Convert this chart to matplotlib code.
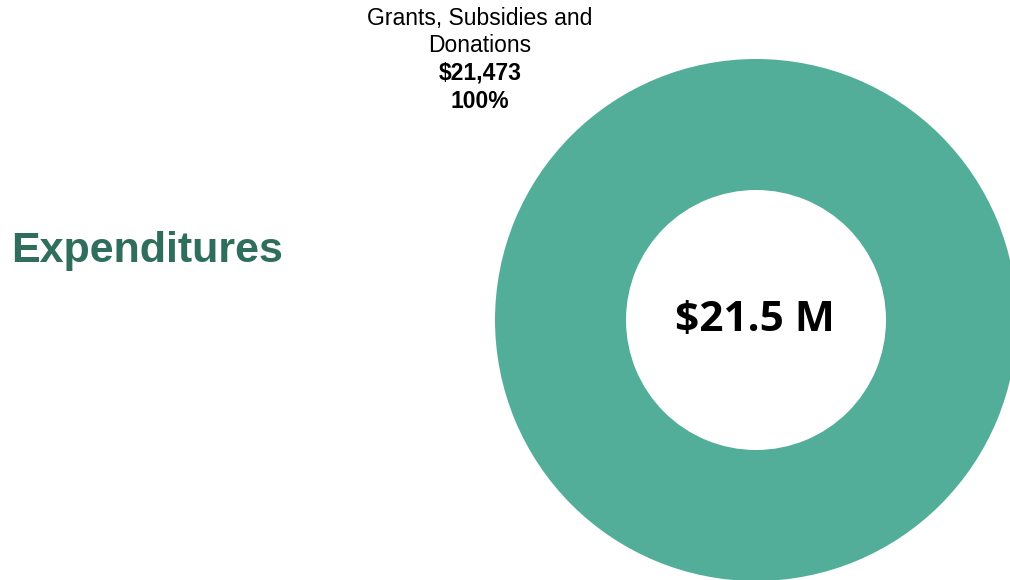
import matplotlib
matplotlib.use("Agg")
import matplotlib.pyplot as plt

categories = ["Grants, Subsidies and\nDonations"]
values = [21473]
percents = ["100%"]
total_label = "$21.5 M"
title = "Expenditures"

W, H = 1010, 580
fig = plt.figure(figsize=(W / 100, H / 100), dpi=100)
ax = fig.add_axes([0, 0, 1, 1])
ax.pie(values, colors=["#52ae98"], center=(756, H - 320), radius=261,
       wedgeprops=dict(width=131, edgecolor="none"), startangle=90)
ax.set_xlim(0, W)
ax.set_ylim(0, H)
ax.set_aspect("equal")
ax.axis("off")

ax.text(755, H - 321, total_label, ha="center", va="center", fontsize=30.5,
        fontweight="bold", family=["Open Sans", "DejaVu Sans"], color="black")
ax.text(147, H - 251, title, ha="center", va="center", fontsize=31,
        fontweight="heavy", family=["Liberation Sans"], color="#2f6e5c")

name_lines = categories[0].split("\n")
ys = [18, 45]
for line, y in zip(name_lines, ys):
    ax.text(480, H - y, line, ha="center", va="center", fontsize=16.5,
            family=["Liberation Sans"], color="black")
ax.text(480, H - 73, f"${values[0]:,}", ha="center", va="center", fontsize=16.5,
        fontweight="bold", family=["Liberation Sans"], color="black")
ax.text(480, H - 101, percents[0], ha="center", va="center", fontsize=16.5,
        fontweight="bold", family=["Liberation Sans"], color="black")

fig.savefig("out.png", dpi=100)
